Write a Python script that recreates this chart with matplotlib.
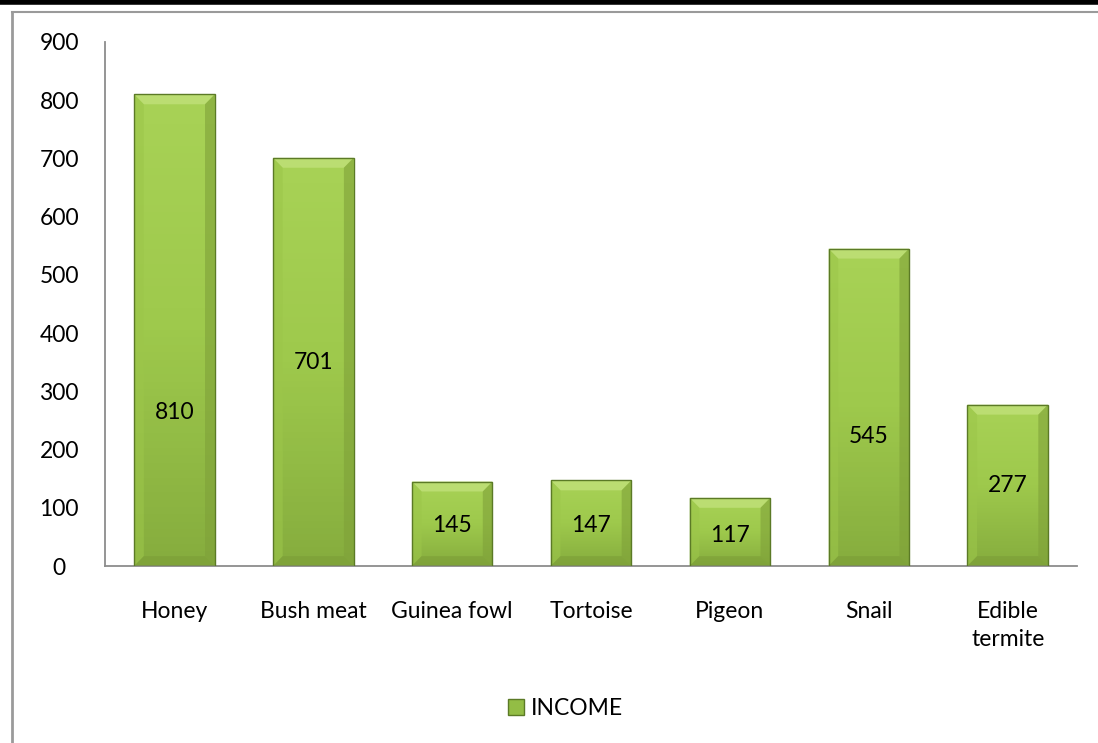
import matplotlib.pyplot as plt
import numpy as np
from matplotlib.patches import Polygon, Rectangle
from matplotlib.lines import Line2D
from matplotlib.colors import LinearSegmentedColormap

plt.rcParams['font.family'] = ['Lato', 'DejaVu Sans']

products = ['Honey', 'Bush meat', 'Guinea fowl', 'Tortoise', 'Pigeon', 'Snail', 'Edible\ntermite']
income = [810, 701, 145, 147, 117, 545, 277]
# where each value label sits (in data units)
label_pos = [263, 349, 70, 70, 53, 222, 139]
series_name = 'INCOME'

face_cmap = LinearSegmentedColormap.from_list('bar', ['#86ad3e', '#9ec94c', '#a8d256'])
FS = 16.5

fig = plt.figure(figsize=(10.98, 7.43), dpi=100)
ax = fig.add_axes([0.0956, 0.2382, 0.8854, 0.7053])
ax.set_xlim(-0.5, len(products) - 0.5)
ax.set_ylim(0, 900)

width = 0.58
bx = width * 0.12
by = 17
for i, v in enumerate(income):
    x0, x1 = i - width / 2, i + width / 2
    rect = Rectangle((x0, 0), width, v, facecolor='none', edgecolor='#5b7a26', lw=1.0, zorder=4)
    ax.add_patch(rect)
    im = ax.imshow(np.linspace(0, 1, 64).reshape(-1, 1), cmap=face_cmap, aspect='auto',
                   extent=(x0, x1, 0, v), origin='lower', zorder=2)
    im.set_clip_path(rect)
    # bevel edges
    ax.add_patch(Polygon([(x0, v), (x1, v), (x1 - bx, v - by), (x0 + bx, v - by)],
                         closed=True, facecolor='#bbdd72', edgecolor='none', zorder=3))
    ax.add_patch(Polygon([(x0, 0), (x0, v), (x0 + bx, v - by), (x0 + bx, by)],
                         closed=True, facecolor='#9cc64a', edgecolor='none', alpha=0.6, zorder=3))
    ax.add_patch(Polygon([(x1, 0), (x1, v), (x1 - bx, v - by), (x1 - bx, by)],
                         closed=True, facecolor='#7fa139', edgecolor='none', alpha=0.6, zorder=3))
    ax.add_patch(Polygon([(x0, 0), (x1, 0), (x1 - bx, by), (x0 + bx, by)],
                         closed=True, facecolor='#7a9a36', edgecolor='none', alpha=0.5, zorder=3))
    ax.text(i, label_pos[i], str(v), ha='center', va='center', fontsize=FS, color='black', zorder=5)

ax.set_xticks(range(len(products)))
ax.set_xticklabels(products, fontsize=FS, va='top', linespacing=1.4)
ax.set_yticks(range(0, 901, 100))
ax.tick_params(axis='both', length=0, labelsize=FS)
ax.tick_params(axis='x', pad=25)
ax.tick_params(axis='y', pad=33)
for lbl in ax.get_yticklabels():
    lbl.set_ha('center')
for s in ['top', 'right']:
    ax.spines[s].set_visible(False)
for s in ['left', 'bottom']:
    ax.spines[s].set_color('#8c8c8c')
    ax.spines[s].set_linewidth(1.3)

handle = Rectangle((0, 0), 1, 1, facecolor='#93bd45', edgecolor='#5b7a26')
fig.legend([handle], [series_name], loc='center', bbox_to_anchor=(0.515, 0.047),
           frameon=False, fontsize=FS, handlelength=0.7, handleheight=0.7, handletextpad=0.3)

# page frame lines
fig.add_artist(Line2D([0, 1], [0.997, 0.997], color='black', lw=4, transform=fig.transFigure))
fig.add_artist(Line2D([0.0105, 1], [0.9845, 0.9845], color='#9a9a9a', lw=1.5, transform=fig.transFigure))
fig.add_artist(Line2D([0.0105, 0.0105], [0, 0.9845], color='#9a9a9a', lw=2, transform=fig.transFigure))

fig.savefig('out.png', dpi=100)
